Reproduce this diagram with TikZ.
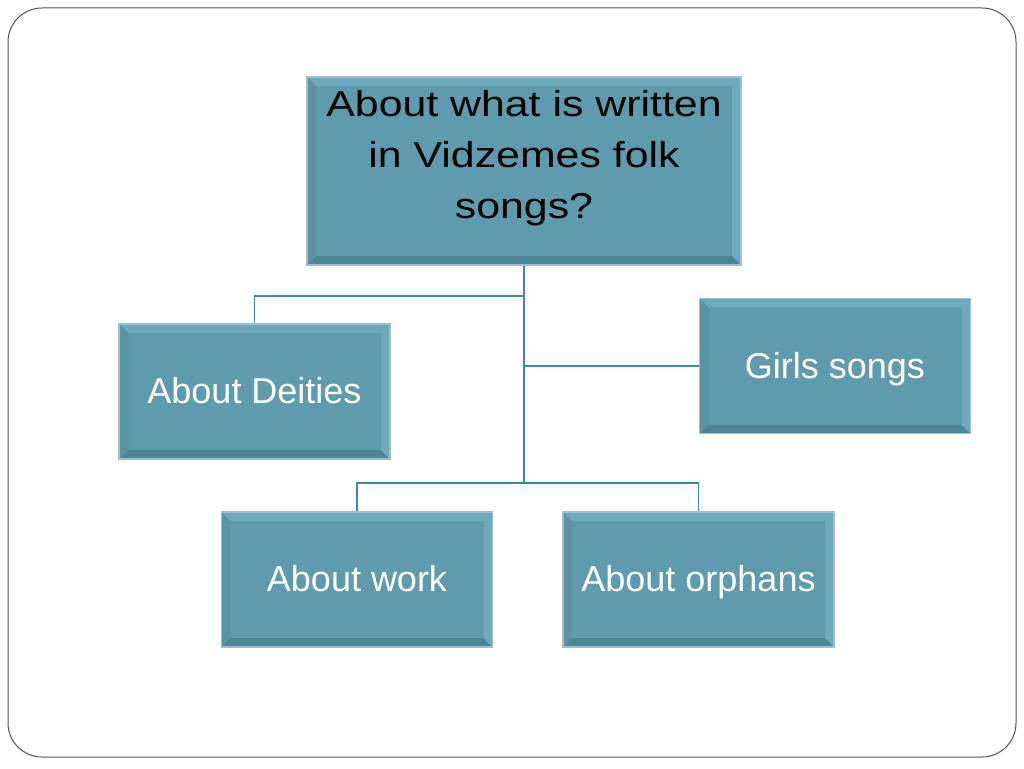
\documentclass[tikz,border=0pt]{standalone}
\usepackage{fontspec}
\setmainfont{Liberation Sans}
\newfontfamily\widefont[FakeStretch=1.19]{Liberation Sans}
\definecolor{boxfill}{HTML}{5F9BAC}
\definecolor{boxedge}{HTML}{9FC0CA}
\definecolor{bvtop}{HTML}{6CA9BA}
\definecolor{bvleft}{HTML}{5A93A3}
\definecolor{bvbottom}{HTML}{4E8697}
\definecolor{bvright}{HTML}{6EAABB}
\definecolor{conncol}{HTML}{3A8C9F}
\definecolor{framecol}{HTML}{555555}
\tikzset{
  bevelbox/.style={draw=boxedge, line width=1.5pt, fill=boxfill, inner sep=0pt,
    path picture={
      \fill[bvtop] (path picture bounding box.north west) -- (path picture bounding box.north east)
        -- ([shift={(-9pt,-9pt)}]path picture bounding box.north east) -- ([shift={(9pt,-9pt)}]path picture bounding box.north west) -- cycle;
      \fill[bvbottom] (path picture bounding box.south west) -- (path picture bounding box.south east)
        -- ([shift={(-9pt,9pt)}]path picture bounding box.south east) -- ([shift={(9pt,9pt)}]path picture bounding box.south west) -- cycle;
      \fill[bvleft] (path picture bounding box.north west) -- (path picture bounding box.south west)
        -- ([shift={(9pt,9pt)}]path picture bounding box.south west) -- ([shift={(9pt,-9pt)}]path picture bounding box.north west) -- cycle;
      \fill[bvright] (path picture bounding box.north east) -- (path picture bounding box.south east)
        -- ([shift={(-9pt,9pt)}]path picture bounding box.south east) -- ([shift={(-9pt,-9pt)}]path picture bounding box.north east) -- cycle;
    }},
  smallbox/.style={bevelbox, minimum width=271pt, minimum height=135pt},
  whitetext/.style={text=white, font=\fontsize{36}{44}\selectfont, inner sep=0pt, anchor=base},
  conn/.style={draw=conncol, line width=1.5pt},
}
\begin{document}
\begin{tikzpicture}[x=1pt, y=-1pt]
\useasboundingbox (0,0) rectangle (1024,768);
\fill[white] (0,0) rectangle (1024,768);
\draw[framecol, line width=1pt, rounded corners=34pt] (8,8) rectangle (1016,757);

\node[bevelbox, minimum width=434pt, minimum height=188pt] (top) at (524,171) {};
\node[align=center, font=\widefont\fontsize{36}{51}\selectfont, text=black, inner sep=0pt] (toptext) at (524,158)
  {About what is written\\in Vidzemes folk\\songs?};

\node[smallbox] (deities) at (254.5,391.5) {};
\node[whitetext] (deitiestext) at (254.5,403) {About Deities};
\node[smallbox] (girls) at (835,366) {};
\node[whitetext] (girlstext) at (835,378) {Girls songs};
\node[smallbox] (work) at (357,579.5) {};
\node[whitetext] (worktext) at (357,591) {About work};
\node[smallbox] (orphans) at (698.5,579.5) {};
\node[whitetext] (orphanstext) at (698.5,591) {About orphans};

\coordinate (j1) at (524,296);
\coordinate (j2) at (524,366);
\coordinate (j3) at (524,483);
\draw[conn] (top.south) -- (j3);
\draw[conn] (j1) -| (deities.north);
\draw[conn] (j2) -- (girls.west);
\draw[conn] (work.north) |- (j3) -| (orphans.north);
\end{tikzpicture}
\end{document}
